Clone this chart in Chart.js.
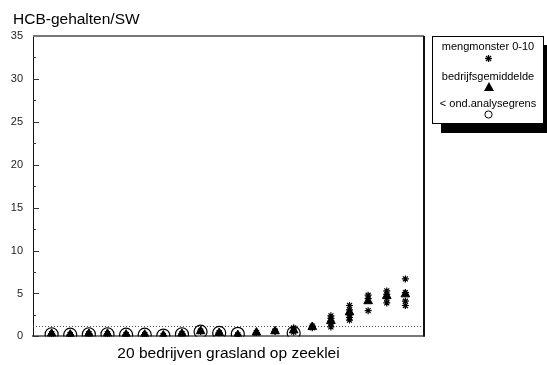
<!DOCTYPE html>
<html lang="nl">
<head>
  <meta charset="UTF-8">
  <title>HCB-gehalten/SW</title>
  <script src="https://cdn.jsdelivr.net/npm/chart.js"></script>
  <style>
    html, body {
      margin: 0;
      padding: 0;
      background: #fff;
      font-family: "Liberation Sans", Arial, sans-serif;
    }
    #wrap {
      position: relative;
      width: 547px;
      height: 365px;
      overflow: hidden;
    }
    #legend {
      position: absolute;
      left: 432px;
      top: 36px;
      width: 110px;
      height: 86px;
      border: 1px solid #000;
      background: #fff;
      box-shadow: 9px 9px 0 #000;
      font-size: 11px;
      color: #000;
      text-align: center;
    }
    #legend .row { position: absolute; left: 0; width: 100%; line-height: 13px; }
    #legend svg { position: absolute; left: 51px; }
  </style>
</head>
<body>
  <div id="wrap">
    <canvas id="chart" width="547" height="365"></canvas>
    <div id="legend">
      <div class="row" style="top:3px">mengmonster 0-10</div>
      <svg style="top:17px" width="9" height="9" viewBox="-4.5 -4.5 9 9">
        <g stroke="#000" stroke-width="1.3">
          <line x1="0" y1="-3.5" x2="0" y2="3.5"/>
          <line x1="-3.5" y1="0" x2="3.5" y2="0"/>
          <line x1="-2.5" y1="-2.5" x2="2.5" y2="2.5"/>
          <line x1="-2.5" y1="2.5" x2="2.5" y2="-2.5"/>
        </g>
      </svg>
      <div class="row" style="top:33px">bedrijfsgemiddelde</div>
      <svg style="top:45px" width="10" height="9" viewBox="0 0 10 9">
        <polygon points="5,0 10,9 0,9" fill="#000"/>
      </svg>
      <div class="row" style="top:60px">&lt; ond.analysegrens</div>
      <svg style="top:73px" width="9" height="9" viewBox="0 0 9 9">
        <circle cx="4.5" cy="4.5" r="3.6" fill="#fff" stroke="#000" stroke-width="1"/>
      </svg>
    </div>
  </div>

  <script>
    // 20 bedrijven, per bedrijf de mengmonsters, het gemiddelde en (indien van toepassing)
    // de waarde onder de analysegrens
    const bedrijven = [1, 2, 3, 4, 5, 6, 7, 8, 9, 10, 11, 12, 13, 14, 15, 16, 17, 18, 19, 20];
    const mengmonsters = [
      [0.3, 0.3], [0.2, 0.2], [0.3, 0.3], [0.3, 0.3], [0.2, 0.2],
      [0.2, 0.2], [0.1, 0.1], [0.3, 0.3], [0.6, 0.6], [0.4, 0.4],
      [0.15, 0.15], [0.45, 0.45], [0.6, 0.6], [1.0, 0.7, 0.5], [1.2, 1.0],
      [2.4, 2.1, 1.8, 1.5, 1.1], [3.6, 3.1, 2.6, 2.2, 1.9], [4.8, 4.4, 3.0],
      [5.3, 4.9, 4.4, 3.9], [6.7, 5.1, 4.1, 3.6]
    ];
    const gemiddelden = [0.3, 0.2, 0.3, 0.3, 0.2, 0.2, 0.1, 0.3, 0.6, 0.4,
                         0.15, 0.45, 0.6, 0.7, 1.1, 1.8, 2.8, 4.1, 4.7, 4.9];
    const onderGrens = [0.25, 0.2, 0.25, 0.25, 0.2, 0.2, 0.1, 0.25, 0.55, 0.4,
                        0.3, null, null, 0.4, null, null, null, null, null, null];
    const analysegrens = 1.15;
    const yTicks = [0, 5, 10, 15, 20, 25, 30, 35];

    const monsterPunten = [];
    bedrijven.forEach((b, i) => mengmonsters[i].forEach(v => monsterPunten.push({ x: b, y: v })));
    const gemPunten = bedrijven.map((b, i) => ({ x: b, y: gemiddelden[i] }));
    const grensPunten = bedrijven
      .map((b, i) => ({ x: b, y: onderGrens[i] }))
      .filter(p => p.y !== null);

    // ticks aan de binnenkant van de y-as plus de boven- en rechterrand
    const frame = {
      id: "frame",
      afterLayout(chart) {
        // titel iets naar rechts
        chart.titleBlock.left = 13;
      },
      afterDraw(chart) {
        const { ctx, chartArea: a, scales } = chart;
        ctx.save();
        ctx.strokeStyle = "#333";
        ctx.lineWidth = 1;
        scales.y.ticks.forEach(t => {
          const py = Math.round(scales.y.getPixelForValue(t.value)) + 0.5;
          const len = t.value % 5 === 0 ? 6 : 3;
          ctx.beginPath();
          ctx.moveTo(a.left, py);
          ctx.lineTo(a.left + len, py);
          ctx.stroke();
        });
        ctx.strokeStyle = "#777";
        ctx.lineWidth = 2;
        ctx.beginPath();
        ctx.moveTo(a.left, a.top);
        ctx.lineTo(a.right, a.top);
        ctx.stroke();
        ctx.strokeStyle = "#111";
        ctx.beginPath();
        ctx.moveTo(a.right, a.top);
        ctx.lineTo(a.right, a.bottom);
        ctx.stroke();
        ctx.restore();
      }
    };

    const font = "'Liberation Sans', Arial, sans-serif";

    new Chart(document.getElementById("chart"), {
      type: "scatter",
      data: {
        datasets: [
          {
            label: "bedrijfsgemiddelde",
            data: gemPunten,
            pointStyle: "triangle",
            pointRadius: 5,
            backgroundColor: "#000",
            borderColor: "#000",
            borderWidth: 1
          },
          {
            label: "mengmonster 0-10",
            data: monsterPunten,
            pointStyle: "star",
            pointRadius: 3.5,
            borderColor: "#000",
            borderWidth: 1.2
          },
          {
            label: "< ond.analysegrens",
            data: grensPunten,
            pointStyle: "circle",
            pointRadius: 6.5,
            backgroundColor: "rgba(0,0,0,0)",
            borderColor: "#000",
            borderWidth: 1.2
          },
          {
            label: "analysegrens",
            type: "line",
            data: [{ x: 0, y: analysegrens }, { x: 21, y: analysegrens }],
            borderColor: "#555",
            borderWidth: 1,
            borderDash: [1, 2],
            pointRadius: 0
          }
        ]
      },
      options: {
        responsive: false,
        animation: false,
        layout: { padding: { left: 0, right: 123, top: 0, bottom: 0 } },
        plugins: {
          legend: { display: false },
          tooltip: { enabled: false },
          title: {
            display: true,
            text: "HCB-gehalten/SW",
            align: "start",
            color: "#000",
            font: { family: font, size: 15.5, weight: "normal" },
            padding: { top: 10, bottom: 7.4 }
          }
        },
        scales: {
          x: {
            type: "linear",
            min: 0,
            max: 21,
            grid: { display: false, drawTicks: false },
            border: { color: "#777", width: 2 },
            ticks: { display: false },
            title: {
              display: true,
              text: "20 bedrijven grasland op zeeklei",
              color: "#000",
              font: { family: font, size: 15.5 },
              padding: { top: 8, bottom: 2 }
            }
          },
          y: {
            min: 0,
            max: 35,
            afterFit: s => { s.width = 33; },
            afterBuildTicks: s => {
              const t = [];
              for (let v = 0; v <= 35; v += 2.5) t.push({ value: v });
              s.ticks = t;
            },
            grid: { display: false, drawTicks: false },
            border: { color: "#111", width: 1 },
            ticks: {
              color: "#222",
              padding: 10,
              font: { family: font, size: 11 },
              callback: v => (yTicks.includes(v) ? v : "")
            }
          }
        }
      },
      plugins: [frame]
    });
  </script>
</body>
</html>
